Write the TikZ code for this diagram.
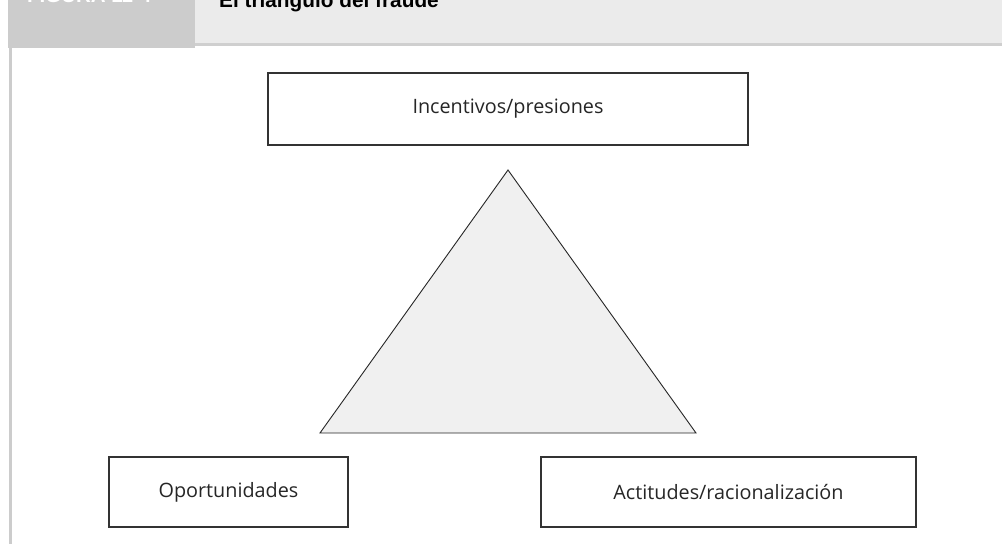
\documentclass[tikz,border=0pt]{standalone}
\usepackage{fontspec}
\setmainfont{Open Sans}
\newfontfamily\headfont{Liberation Sans}
\begin{document}
\begin{tikzpicture}[x=1pt,y=-1pt,
  labelbox/.style={draw=black!80,line width=1.2pt,fill=white,inner sep=0pt,font=\fontsize{19.8}{23}\selectfont,text=black!85},
  tri/.style={draw=black!85,line width=0.9pt,fill=black!6}]
\useasboundingbox (0,0) rectangle (1002,544);
\clip (0,0) rectangle (1002,544);
\fill[white] (0,0) rectangle (1002,544);
% header band
\fill[black!20] (8,0) rectangle (195,48);
\fill[black!8] (195,0) rectangle (1002,43);
\fill[black!19] (195,43) rectangle (1002,46);
\draw[black!20,line width=3pt] (10,46) -- (10,544);
\node[anchor=base west,inner sep=0pt,text=white,font=\headfont\bfseries\fontsize{20.5}{24}\selectfont] (fig) at (27,2.5) {FIGURA 11-4};
\node[anchor=base west,inner sep=0pt,text=black,font=\headfont\bfseries\fontsize{20.8}{24}\selectfont] (title) at (219,7) {El triángulo del fraude};
% boxes
\node[labelbox,minimum width=480pt,minimum height=72pt] (inc) at (508,109) {Incentivos/presiones};
\node[labelbox,minimum width=239pt,minimum height=70pt] (opo) at (228.5,492) {Oportunidades};
\node[labelbox,minimum width=375pt,minimum height=70pt] (act) at (728.5,492) {Actitudes/racionalización};
% triangle
\coordinate (apex) at (508,170);
\coordinate (bl) at (320,433);
\coordinate (br) at (696,433);
\draw[tri] (apex) -- (br) -- (bl) -- cycle;
\end{tikzpicture}
\end{document}
